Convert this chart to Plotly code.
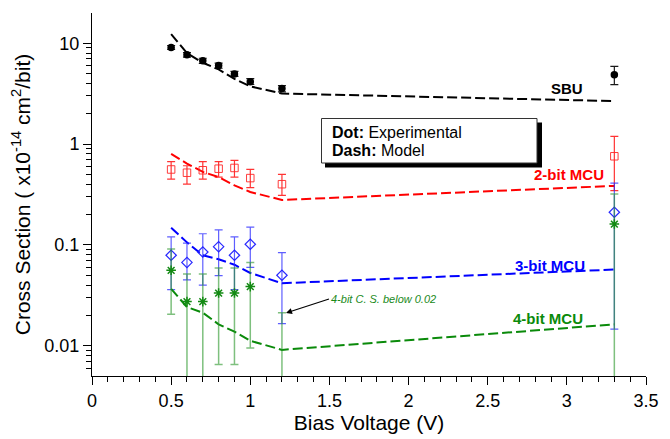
import plotly.graph_objects as go

# ---------------- data ----------------
bias_exp = [0.5, 0.6, 0.7, 0.8, 0.9, 1.0, 1.2, 3.3]
bias_model = [0.5, 0.6, 0.7, 0.8, 0.9, 1.0, 1.2, 3.3]

sbu_exp = [9.1, 7.7, 6.7, 6.0, 4.96, 4.16, 3.56, 4.88]
sbu_hi = [9.5, 8.1, 7.1, 6.35, 5.25, 4.45, 3.8, 5.89]
sbu_lo = [8.7, 7.3, 6.3, 5.65, 4.7, 3.9, 3.3, 3.89]
sbu_model = [12.3, 8.0, 6.4, 5.5, 4.43, 3.74, 3.17, 2.67]

mcu2_exp = [0.56, 0.52, 0.55, 0.57, 0.58, 0.46, 0.40, 0.757]
mcu2_hi = [0.67, 0.61, 0.67, 0.67, 0.69, 0.56, 0.50, 1.19]
mcu2_lo = [0.45, 0.40, 0.45, 0.47, 0.47, 0.37, 0.31, 0.345]
mcu2_model = [0.80, 0.64, 0.53, 0.47, 0.39, 0.335, 0.279, 0.385]

mcu3_exp = [0.079, 0.067, 0.085, 0.096, 0.079, 0.1016, 0.050, 0.211]
mcu3_hi = [0.12, 0.104, 0.129, 0.141, 0.12, 0.15, 0.084, 0.41]
mcu3_lo = [0.036, 0.045, 0.040, 0.0495, 0.036, 0.06, 0.0166, 0.0146]
mcu3_model = [0.148, 0.106, 0.079, 0.072, 0.0636, 0.0527, 0.0417, 0.057]

bias4_exp = [0.5, 0.6, 0.7, 0.8, 0.9, 1.0, 3.3]
mcu4_exp = [0.056, 0.0274, 0.0274, 0.0333, 0.0333, 0.0386, 0.161]
mcu4_hi = [0.091, 0.0515, 0.0515, 0.059, 0.059, 0.067, 0.32]
mcu4_lo = [0.0205, 0.0001, 0.0001, 0.0065, 0.0065, 0.0095, 0.0001]
mcu4_model = [0.0366, 0.0242, 0.0213, 0.0163, 0.0138, 0.0112, 0.0091, 0.0163]
mcu4_limit_x = [1.2]
mcu4_limit = [0.0213]   # "4-bit C. S. below 0.02"
mcu4_limit_lo = [0.0001]

x_ticks = [0, 0.5, 1, 1.5, 2, 2.5, 3, 3.5]
x_ticktext = ["0", "0.5", "1", "1.5", "2", "2.5", "3", "3.5"]
y_ticks = [0.01, 0.1, 1, 10]
y_ticktext = ["0.01", "0.1", "1", "10"]
y_minor = [0.005, 0.006, 0.007, 0.008, 0.009,
           0.02, 0.03, 0.04, 0.05, 0.06, 0.07, 0.08, 0.09,
           0.2, 0.3, 0.4, 0.5, 0.6, 0.7, 0.8, 0.9,
           2, 3, 4, 5, 6, 7, 8, 9, 20]

FONT = "Arial, Liberation Sans, sans-serif"

def err(v, hi, lo):
    return dict(type="data", symmetric=False,
                array=[h - x for h, x in zip(hi, v)],
                arrayminus=[x - l for x, l in zip(v, lo)])

fig = go.Figure()

series = [
    ("SBU", sbu_exp, sbu_hi, sbu_lo, sbu_model, "#000000", "rgba(0,0,0,0.9)",
     dict(symbol="circle", size=7.5, color="#000000")),
    ("2-bit MCU", mcu2_exp, mcu2_hi, mcu2_lo, mcu2_model, "#ff0000", "rgba(255,0,0,0.8)",
     dict(symbol="square-open", size=7.5, color="rgba(255,40,40,0.9)", line=dict(width=1))),
    ("3-bit MCU", mcu3_exp, mcu3_hi, mcu3_lo, mcu3_model, "#0000ff", "rgba(40,40,255,0.75)",
     dict(symbol="diamond-open", size=8, color="rgba(30,30,255,0.95)", line=dict(width=1.2))),
]

for name, ev, hi, lo, mv, col, ecol, mk in series:
    fig.add_trace(go.Scatter(x=bias_model, y=mv, mode="lines",
                             line=dict(color=col, width=2, dash="10px,4px"),
                             showlegend=False))
    fig.add_trace(go.Scatter(x=bias_exp, y=ev, mode="markers", marker=mk,
                             error_y=dict(err(ev, hi, lo), color=ecol, thickness=1.2, width=4),
                             showlegend=False))

# 4-bit
fig.add_trace(go.Scatter(x=bias_model, y=mcu4_model, mode="lines",
                         line=dict(color="#0a8a0a", width=2, dash="10px,4px"),
                         showlegend=False))
fig.add_trace(go.Scatter(x=bias4_exp, y=mcu4_exp, mode="markers",
                         marker=dict(symbol="asterisk-open", size=8, color="#138a13",
                                     line=dict(width=1.5, color="#138a13")),
                         error_y=dict(err(mcu4_exp, mcu4_hi, mcu4_lo),
                                      color="rgba(40,150,40,0.6)", thickness=1.5, width=4),
                         showlegend=False))
fig.add_trace(go.Scatter(x=mcu4_limit_x, y=mcu4_limit, mode="markers",
                         marker=dict(size=1, opacity=0),
                         error_y=dict(type="data", symmetric=False, array=[0],
                                      arrayminus=[a - b for a, b in zip(mcu4_limit, mcu4_limit_lo)],
                                      color="rgba(40,150,40,0.6)", thickness=1.5, width=4),
                         showlegend=False))

# ---------------- layout helpers (pixel -> paper) ----------------
L, R, T, B = 92, 646, 13, 376
def px(xp):
    return (xp - L) / (R - L)
def py(yp):
    return (B - yp) / (B - T)

shapes = [
    dict(type="rect", xref="paper", yref="paper", x0=px(325), x1=px(542),
         y0=py(167.5), y1=py(122.5), fillcolor="#000000", line=dict(width=0)),
    dict(type="rect", xref="paper", yref="paper", x0=px(321.5), x1=px(537),
         y0=py(163), y1=py(118.5), fillcolor="#ffffff", line=dict(color="#333333", width=1)),
]

annotations = [
    dict(text="<b>Dot:</b> Experimental", x=px(330), y=py(132), xref="paper", yref="paper",
         xanchor="left", yanchor="middle", showarrow=False,
         font=dict(family=FONT, size=16, color="#000")),
    dict(text="<b>Dash:</b> Model", x=px(330), y=py(151), xref="paper", yref="paper",
         xanchor="left", yanchor="middle", showarrow=False,
         font=dict(family=FONT, size=16, color="#000")),
    dict(text="<b>SBU</b>", x=px(566.5), y=py(88.5), xref="paper", yref="paper",
         xanchor="center", yanchor="middle", showarrow=False,
         font=dict(family=FONT, size=15, color="#000000")),
    dict(text="<b>2-bit MCU</b>", x=px(568.5), y=py(175), xref="paper", yref="paper",
         xanchor="center", yanchor="middle", showarrow=False,
         font=dict(family=FONT, size=15, color="#ff0000")),
    dict(text="<b>3-bit MCU</b>", x=px(550), y=py(265), xref="paper", yref="paper",
         xanchor="center", yanchor="middle", showarrow=False,
         font=dict(family=FONT, size=15, color="#0000ff")),
    dict(text="<b>4-bit MCU</b>", x=px(547.5), y=py(318.5), xref="paper", yref="paper",
         xanchor="center", yanchor="middle", showarrow=False,
         font=dict(family=FONT, size=15, color="#0a8a0a")),
    dict(text="<i>4-bit C. S. below 0.02</i>", x=px(286), y=py(313), xref="paper", yref="paper",
         xanchor="left", yanchor="middle", showarrow=True, ax=43, ay=-14,
         arrowhead=2, arrowsize=1, arrowwidth=1.2, arrowcolor="#000000", standoff=0,
         font=dict(family=FONT, size=11, color="#1a8a1a")),
]

fig.update_layout(
    width=670, height=439,
    margin=dict(l=L, r=670 - R, t=T, b=439 - B, autoexpand=False),
    paper_bgcolor="white", plot_bgcolor="white",
    font=dict(family=FONT, color="#000"),
    shapes=shapes, annotations=annotations,
    xaxis=dict(range=[0, 3.5], tickvals=x_ticks, ticktext=x_ticktext,
               ticks="outside", ticklen=8, tickwidth=1, tickcolor="#000",
               minor=dict(ticks="outside", ticklen=5, dtick=0.1, tick0=0, tickcolor="#000", showgrid=False),
               showline=True, linecolor="#000", linewidth=1, showgrid=False, zeroline=False,
               automargin=False,
               tickfont=dict(size=18, family=FONT),
               title=dict(text="Bias Voltage (V)", font=dict(size=21, family=FONT), standoff=4)),
    yaxis=dict(type="log", range=[-2.3, 1.3], tickvals=y_ticks, ticktext=y_ticktext,
               ticks="outside", ticklen=8, tickwidth=1, tickcolor="#000",
               minor=dict(ticks="outside", ticklen=5, tickmode="array", tickvals=y_minor,
                          tickcolor="#000", showgrid=False),
               showline=True, linecolor="#000", linewidth=1, showgrid=False, zeroline=False,
               automargin=False,
               tickfont=dict(size=18, family=FONT),
               title=dict(text="Cross Section ( x10<sup>-14</sup> cm<sup>2</sup>/bit)",
                          font=dict(size=21, family=FONT), standoff=8)),
)

fig.write_html("out.html", config={"displayModeBar": False},
               post_script="document.body.style.margin='0px';")
